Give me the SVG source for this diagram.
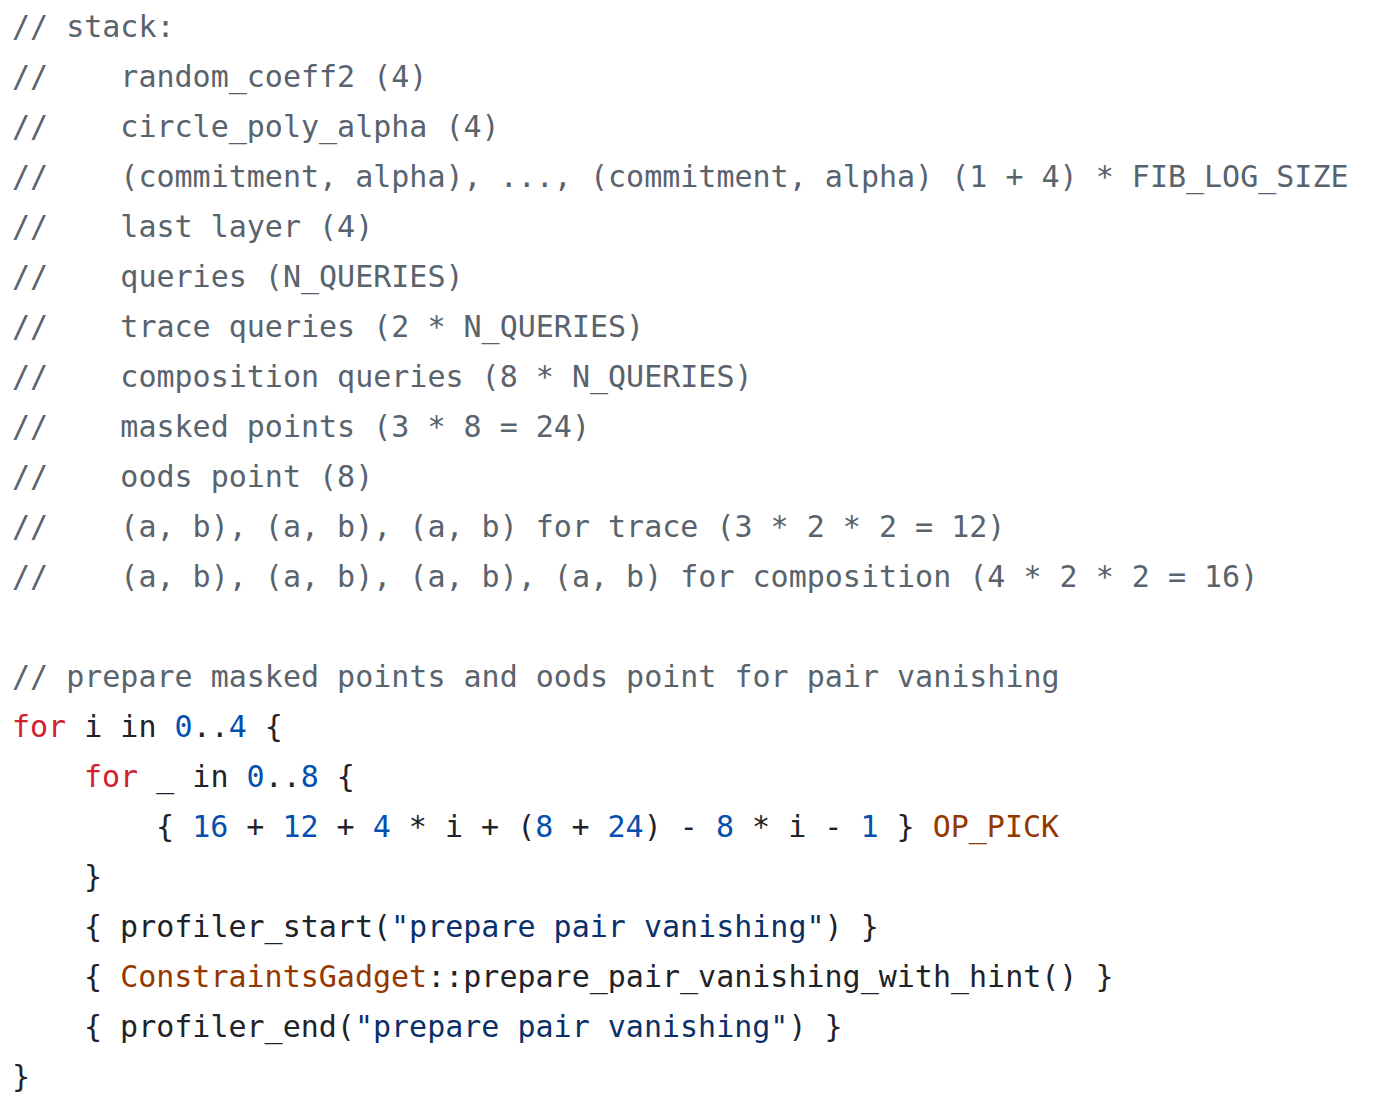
<svg xmlns="http://www.w3.org/2000/svg" width="1392" height="1110" viewBox="0 0 1392 1110">
<style>
text{font-family:"DejaVu Sans Mono","Liberation Mono",monospace;font-size:30px;fill:#1f2328;white-space:pre}
.c{fill:#59636e}
.k{fill:#cf222e}
.n{fill:#0550ae}
.e{fill:#953800}
.s{fill:#0a3069}
</style>
<rect width="1392" height="1110" fill="#ffffff"/>
<g id="code" xml:space="preserve">
<text x="12" y="37" class="c">// stack:</text>
<text x="12" y="87" class="c">//    random_coeff2 (4)</text>
<text x="12" y="137" class="c">//    circle_poly_alpha (4)</text>
<text x="12" y="187" class="c">//    (commitment, alpha), ..., (commitment, alpha) (1 + 4) * FIB_LOG_SIZE</text>
<text x="12" y="237" class="c">//    last layer (4)</text>
<text x="12" y="287" class="c">//    queries (N_QUERIES)</text>
<text x="12" y="337" class="c">//    trace queries (2 * N_QUERIES)</text>
<text x="12" y="387" class="c">//    composition queries (8 * N_QUERIES)</text>
<text x="12" y="437" class="c">//    masked points (3 * 8 = 24)</text>
<text x="12" y="487" class="c">//    oods point (8)</text>
<text x="12" y="537" class="c">//    (a, b), (a, b), (a, b) for trace (3 * 2 * 2 = 12)</text>
<text x="12" y="587" class="c">//    (a, b), (a, b), (a, b), (a, b) for composition (4 * 2 * 2 = 16)</text>
<text x="12" y="687" class="c">// prepare masked points and oods point for pair vanishing</text>
<text x="12" y="737"><tspan class="k">for</tspan> i in <tspan class="n">0</tspan>..<tspan class="n">4</tspan> {</text>
<text x="84" y="787"><tspan class="k">for</tspan> _ in <tspan class="n">0</tspan>..<tspan class="n">8</tspan> {</text>
<text x="156" y="837">{ <tspan class="n">16</tspan> + <tspan class="n">12</tspan> + <tspan class="n">4</tspan> * i + (<tspan class="n">8</tspan> + <tspan class="n">24</tspan>) - <tspan class="n">8</tspan> * i - <tspan class="n">1</tspan> } <tspan class="e">OP_PICK</tspan></text>
<text x="84" y="887">}</text>
<text x="84" y="937">{ profiler_start(<tspan class="s">"prepare pair vanishing"</tspan>) }</text>
<text x="84" y="987">{ <tspan class="e">ConstraintsGadget</tspan>::prepare_pair_vanishing_with_hint() }</text>
<text x="84" y="1037">{ profiler_end(<tspan class="s">"prepare pair vanishing"</tspan>) }</text>
<text x="12" y="1087">}</text>
</g>
</svg>
